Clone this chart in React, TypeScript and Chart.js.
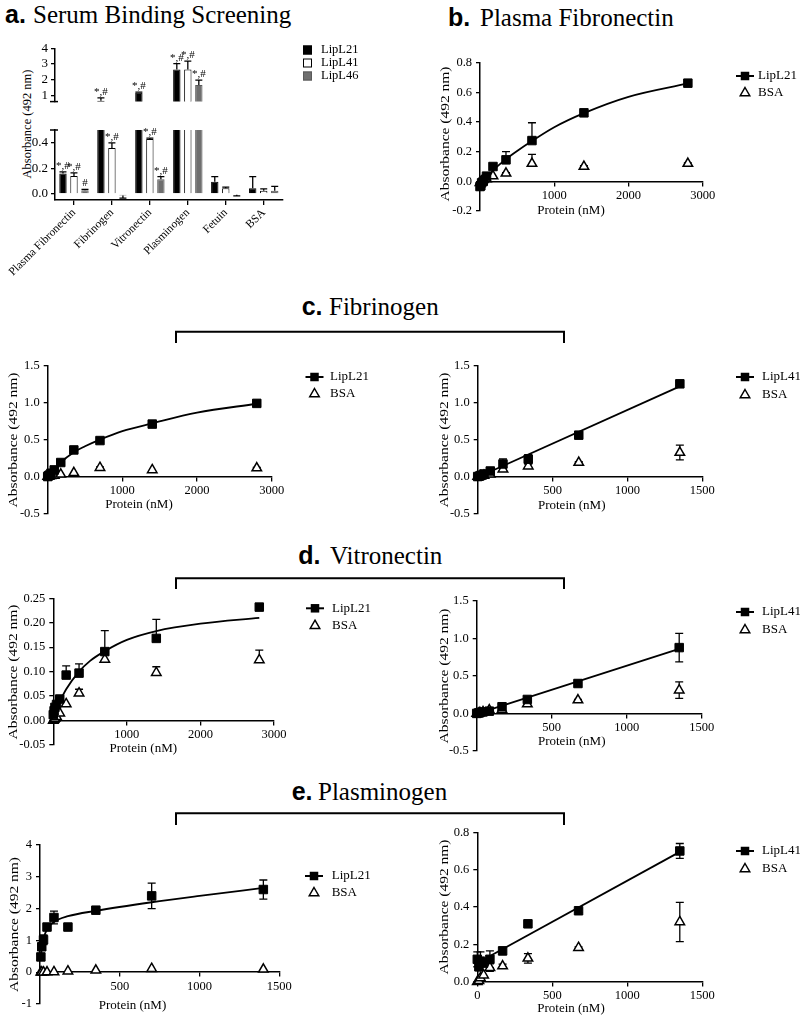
import React, { useEffect, useRef } from 'react';
import { Chart, registerables } from 'chart.js';

Chart.register(...registerables);

const SERIF = '"Liberation Serif", "Times New Roman", Times, serif';
const SANS = '"Liberation Sans", Arial, Helvetica, sans-serif';

// ---------------- Text ----------------
const xAxisTitle = 'Protein (nM)';
const yAxisTitle = 'Absorbance (492 nm)';

// ---------------- Panel a: Serum Binding Screening ----------------
const aCategories = ['Plasma Fibronectin', 'Fibrinogen', 'Vitronectin', 'Plasminogen', 'Fetuin', 'BSA'];
const aSeriesNames = ['LipL21', 'LipL41', 'LipL46'];
const aLipL21 = [0.16, 0.66, 1.17, 2.66, 0.095, 0.045];
const aLipL21Err = [0.012, 0.19, 0.05, 0.37, 0.04, 0.09];
const aLipL21Marks = ['*,#', '*,#', '*,#', '*,#', '', ''];
const aLipL41 = [0.14, 0.36, 0.43, 2.66, 0.045, 0.025];
const aLipL41Err = [0.025, 0.04, 0.006, 0.53, 0.008, 0.015];
const aLipL41Marks = ['*,#', '*,#', '*,#', '*,#', '', ''];
const aLipL46 = [0.03, -0.012, 0.115, 1.66, -0.006, 0.025];
const aLipL46Err = [0.006, 0.02, 0.02, 0.32, 0.008, 0.035];
const aLipL46Marks = ['#', '', '*,#', '*,#', '', ''];
const aUpperTicks = [1, 2, 3, 4];
const aLowerTicks = [0, 0.2, 0.4];

// ---------------- Panel b: Plasma Fibronectin ----------------
const bConc = [0, 11, 22, 44, 87.5, 175, 350, 700, 1400, 2800];
const bLipL21 = [-0.035, -0.03, -0.01, 0.0, 0.035, 0.1, 0.145, 0.275, 0.462, 0.662];
const bLipL21Err = [0, 0, 0, 0, 0, 0, 0.055, 0.12, 0, 0];
const bBSA = [-0.01, -0.005, 0.0, 0.01, 0.015, 0.036, 0.054, 0.12, 0.1, 0.12];
const bBSAErr = [0, 0, 0, 0, 0, 0, 0.005, 0.062, 0.005, 0.005];
const bFitX = [0, 100, 200, 350, 500, 700, 1000, 1400, 2000, 2800];
const bFitY = [-0.03, 0.03, 0.085, 0.15, 0.205, 0.272, 0.365, 0.46, 0.57, 0.66];
const bXTicks = [1000, 2000, 3000];
const bYTicks = [-0.2, 0, 0.2, 0.4, 0.6, 0.8];

// ---------------- Panel c: Fibrinogen ----------------
const cLConc = [0, 11, 22, 44, 87.5, 175, 350, 700, 1400, 2800];
const cLLipL21 = [0.0, 0.01, 0.02, 0.045, 0.09, 0.19, 0.36, 0.487, 0.71, 0.99];
const cLLipL21Err = [0, 0, 0, 0, 0.01, 0.02, 0.02, 0.02, 0.02, 0.04];
const cLBSA = [0, 0, 0.005, 0.01, 0.015, 0.03, 0.05, 0.12, 0.09, 0.115];
const cLBSAErr = [0, 0, 0, 0, 0, 0, 0, 0.01, 0, 0.01];
const cLFitX = [0, 100, 175, 350, 500, 700, 1000, 1400, 2000, 2800];
const cLFitY = [0, 0.1, 0.19, 0.33, 0.41, 0.5, 0.615, 0.72, 0.865, 0.985];
const cLXTicks = [1000, 2000, 3000];
const cYTicks = [-0.5, 0, 0.5, 1, 1.5];

const cRConc = [0, 10.5, 21, 42, 84, 168.75, 337.5, 675, 1350];
const cRLipL41 = [0, 0.005, 0.015, 0.035, 0.075, 0.17, 0.235, 0.56, 1.255];
const cRLipL41Err = [0, 0, 0, 0, 0.01, 0.07, 0.06, 0.03, 0.02];
const cRBSA = [0, 0, 0.005, 0.015, 0.03, 0.1, 0.14, 0.19, 0.325];
const cRBSAErr = [0, 0, 0, 0, 0, 0.02, 0.03, 0.01, 0.1];
const cRFitX = [0, 1350];
const cRFitY = [-0.01, 1.22];
const cRXTicks = [500, 1000, 1500];

// ---------------- Panel d: Vitronectin ----------------
const dLConc = [0, 11, 22, 44, 87.5, 175, 350, 700, 1400, 2800];
const dLLipL21 = [0.012, 0.02, 0.027, 0.033, 0.044, 0.093, 0.097, 0.141, 0.168, 0.232];
const dLLipL21Err = [0, 0, 0, 0, 0, 0.019, 0.019, 0.043, 0.039, 0];
const dLBSA = [0, 0.002, 0.004, 0.008, 0.015, 0.034, 0.056, 0.125, 0.098, 0.124];
const dLBSAErr = [0, 0, 0, 0, 0, 0, 0.008, 0.01, 0.012, 0.02];
const dLFitX = [0, 44, 87.5, 175, 350, 500, 700, 1000, 1400, 2000, 2800];
const dLFitY = [0, 0.022, 0.038, 0.064, 0.1, 0.122, 0.142, 0.165, 0.183, 0.198, 0.21];
const dLXTicks = [1000, 2000, 3000];
const dLYTicks = [-0.05, 0, 0.05, 0.1, 0.15, 0.2, 0.25];

const dRConc = [0, 10.5, 21, 42, 84, 168.75, 337.5, 675, 1350];
const dRLipL41 = [0, 0.005, 0.01, 0.02, 0.03, 0.089, 0.186, 0.398, 0.876];
const dRLipL41Err = [0, 0, 0, 0, 0.01, 0.02, 0.02, 0.04, 0.19];
const dRBSA = [0, 0, 0.01, 0.02, 0.045, 0.05, 0.124, 0.177, 0.31];
const dRBSAErr = [0, 0, 0, 0, 0.01, 0, 0.03, 0.01, 0.11];
const dRFitX = [0, 1350];
const dRFitY = [-0.005, 0.86];
const dRXTicks = [500, 1000, 1500];
const dRYTicks = [-0.5, 0, 0.5, 1, 1.5];

// ---------------- Panel e: Plasminogen ----------------
const eLConc = [5.5, 11, 22, 44, 87.5, 175, 350, 700, 1400];
const eLLipL21 = [0.48, 0.8, 1.02, 1.42, 1.72, 1.42, 1.95, 2.4, 2.6];
const eLLipL21Err = [0.08, 0.1, 0.15, 0.05, 0.2, 0.08, 0.08, 0.4, 0.3];
const eLBSA = [0, 0, 0, 0.005, 0.01, 0.03, 0.06, 0.11, 0.09];
const eLBSAErr = [0, 0, 0, 0, 0, 0, 0, 0, 0];
const eLFitX = [5.5, 11, 22, 44, 87.5, 175, 350, 700, 1000, 1400];
const eLFitY = [0.45, 0.75, 1.05, 1.35, 1.58, 1.76, 1.93, 2.2, 2.4, 2.65];
const eLXTicks = [500, 1000, 1500];
const eLYTicks = [-1, 0, 1, 2, 3, 4];

const eRConc = [0, 10.5, 21, 42, 84, 168.75, 337.5, 675, 1350];
const eRLipL41 = [0.12, 0.08, 0.11, 0.1, 0.12, 0.165, 0.31, 0.38, 0.7];
const eRLipL41Err = [0.04, 0.02, 0.05, 0.02, 0.045, 0.02, 0.01, 0.01, 0.04];
const eRBSA = [0, 0.005, 0.02, 0.035, 0.075, 0.084, 0.125, 0.182, 0.32];
const eRBSAErr = [0, 0, 0, 0, 0.02, 0.01, 0.025, 0.005, 0.105];
const eRFitX = [0, 1350];
const eRFitY = [0.1, 0.695];
const eRXTicks = [0, 500, 1000, 1500];
const eRYTicks = [0, 0.2, 0.4, 0.6, 0.8];

// ---------------- helpers ----------------
function drawErrorBars(chart: any) {
  const ctx = chart.ctx;
  const area = chart.chartArea;
  chart.data.datasets.forEach((ds: any, i: number) => {
    const errs = ds.errors;
    if (!errs) return;
    const meta = chart.getDatasetMeta(i);
    const yScale = chart.scales[meta.yAxisID];
    const mode = ds.errorMode || 'both';
    const cap = ds.capHalf || 4;
    ctx.save();
    ctx.beginPath();
    ctx.rect(area.left - 12, area.top, area.right - area.left + 24, area.bottom - area.top);
    ctx.clip();
    ctx.strokeStyle = '#000';
    ctx.lineWidth = 1.3;
    meta.data.forEach((el: any, j: number) => {
      const e = errs[j];
      if (!e) return;
      const raw = ds.data[j];
      const v = typeof raw === 'number' ? raw : raw.y;
      const ends: number[] = [];
      if (mode === 'both') ends.push(v + e, v - e);
      else ends.push(v >= 0 ? v + e : v - e);
      const p0 = yScale.getPixelForValue(v);
      ends.forEach((t) => {
        const py = yScale.getPixelForValue(t);
        ctx.beginPath();
        ctx.moveTo(el.x, p0);
        ctx.lineTo(el.x, py);
        ctx.moveTo(el.x - cap, py);
        ctx.lineTo(el.x + cap, py);
        ctx.stroke();
      });
    });
    ctx.restore();
  });
}

type Box = { x: number; y: number; w: number; h: number };
type XYPanel = {
  key: string;
  box: Box;
  axisX: number;
  xRight: number;
  yTop: number;
  yBottom: number;
  xMax: number;
  xTicks: number[];
  yMin: number;
  yMax: number;
  yTicks: number[];
  yDec: number;
  conc: number[];
  lip: number[];
  lipErr: number[];
  bsa: number[];
  bsaErr: number[];
  fitX: number[];
  fitY: number[];
  lipName: string;
  errMode: string;
  legend: { sx: number; tx: number; y1: number; y2: number };
  xTitle: { x: number; y: number };
  yTitle: { x: number; y: number };
};

const xyPanels: XYPanel[] = [
  {
    key: 'b', box: { x: 400, y: 50, w: 400, h: 175 }, axisX: 480, xRight: 702.7, yTop: 62.7, yBottom: 211,
    xMax: 3000, xTicks: bXTicks, yMin: -0.2, yMax: 0.8, yTicks: bYTicks, yDec: 1,
    conc: bConc, lip: bLipL21, lipErr: bLipL21Err, bsa: bBSA, bsaErr: bBSAErr, fitX: bFitX, fitY: bFitY,
    lipName: 'LipL21', errMode: 'up', legend: { sx: 745, tx: 758, y1: 76, y2: 93 },
    xTitle: { x: 571, y: 211 }, yTitle: { x: 445.7, y: 134 },
  },
  {
    key: 'cL', box: { x: 0, y: 350, w: 390, h: 175 }, axisX: 47.7, xRight: 271.7, yTop: 365.7, yBottom: 514.7,
    xMax: 3000, xTicks: cLXTicks, yMin: -0.5, yMax: 1.5, yTicks: cYTicks, yDec: 1,
    conc: cLConc, lip: cLLipL21, lipErr: cLLipL21Err, bsa: cLBSA, bsaErr: cLBSAErr, fitX: cLFitX, fitY: cLFitY,
    lipName: 'LipL21', errMode: 'up', legend: { sx: 314.5, tx: 330, y1: 377, y2: 394 },
    xTitle: { x: 139, y: 505 }, yTitle: { x: 14, y: 440 },
  },
  {
    key: 'cR', box: { x: 400, y: 350, w: 400, h: 175 }, axisX: 477.7, xRight: 702.3, yTop: 365.7, yBottom: 515,
    xMax: 1500, xTicks: cRXTicks, yMin: -0.5, yMax: 1.5, yTicks: cYTicks, yDec: 1,
    conc: cRConc, lip: cRLipL41, lipErr: cRLipL41Err, bsa: cRBSA, bsaErr: cRBSAErr, fitX: cRFitX, fitY: cRFitY,
    lipName: 'LipL41', errMode: 'both', legend: { sx: 745, tx: 762, y1: 377, y2: 395 },
    xTitle: { x: 571.7, y: 505.5 }, yTitle: { x: 444.3, y: 440 },
  },
  {
    key: 'dL', box: { x: 0, y: 585, w: 390, h: 175 }, axisX: 53.3, xRight: 274, yTop: 598.3, yBottom: 745,
    xMax: 3000, xTicks: dLXTicks, yMin: -0.05, yMax: 0.25, yTicks: dLYTicks, yDec: 2,
    conc: dLConc, lip: dLLipL21, lipErr: dLLipL21Err, bsa: dLBSA, bsaErr: dLBSAErr, fitX: dLFitX, fitY: dLFitY,
    lipName: 'LipL21', errMode: 'up', legend: { sx: 315, tx: 332, y1: 608.3, y2: 625.7 },
    xTitle: { x: 143.3, y: 748.3 }, yTitle: { x: 14, y: 672 },
  },
  {
    key: 'dR', box: { x: 400, y: 588, w: 400, h: 175 }, axisX: 476.7, xRight: 701.7, yTop: 600.7, yBottom: 751,
    xMax: 1500, xTicks: dRXTicks, yMin: -0.5, yMax: 1.5, yTicks: dRYTicks, yDec: 1,
    conc: dRConc, lip: dRLipL41, lipErr: dRLipL41Err, bsa: dRBSA, bsaErr: dRBSAErr, fitX: dRFitX, fitY: dRFitY,
    lipName: 'LipL41', errMode: 'both', legend: { sx: 745, tx: 762, y1: 612, y2: 630 },
    xTitle: { x: 571.7, y: 741.7 }, yTitle: { x: 444.3, y: 676 },
  },
  {
    key: 'eL', box: { x: 0, y: 830, w: 390, h: 190 }, axisX: 40, xRight: 279.3, yTop: 845, yBottom: 1004,
    xMax: 1500, xTicks: eLXTicks, yMin: -1, yMax: 4, yTicks: eLYTicks, yDec: 0,
    conc: eLConc, lip: eLLipL21, lipErr: eLLipL21Err, bsa: eLBSA, bsaErr: eLBSAErr, fitX: eLFitX, fitY: eLFitY,
    lipName: 'LipL21', errMode: 'both', legend: { sx: 314, tx: 331.7, y1: 876, y2: 893 },
    xTitle: { x: 132.5, y: 1006 }, yTitle: { x: 15, y: 924.5 },
  },
  {
    key: 'eR', box: { x: 400, y: 818, w: 400, h: 202 }, axisX: 477.3, xRight: 702.3, yTop: 832.3, yBottom: 981.7,
    xMax: 1500, xTicks: eRXTicks, yMin: 0, yMax: 0.8, yTicks: eRYTicks, yDec: 1,
    conc: eRConc, lip: eRLipL41, lipErr: eRLipL41Err, bsa: eRBSA, bsaErr: eRBSAErr, fitX: eRFitX, fitY: eRFitY,
    lipName: 'LipL41', errMode: 'both', legend: { sx: 745, tx: 762, y1: 851, y2: 869 },
    xTitle: { x: 571, y: 1009 }, yTitle: { x: 444.3, y: 907 },
  },
];

function makeXYConfig(p: XYPanel): any {
  const bx = p.box.x;
  const by = p.box.y;
  const yAxisW = p.axisX - bx;
  const tickFont = { family: SERIF, size: 12.5 };
  const overlay = {
    id: 'xyOverlay',
    beforeDatasetsDraw(chart: any) {
      drawErrorBars(chart);
    },
    afterDraw(chart: any) {
      const ctx = chart.ctx;
      ctx.save();
      ctx.fillStyle = '#000';
      ctx.strokeStyle = '#000';
      ctx.font = `13px ${SERIF}`;
      ctx.textAlign = 'center';
      ctx.textBaseline = 'middle';
      ctx.fillText(xAxisTitle, p.xTitle.x - bx, p.xTitle.y - by);
      ctx.save();
      ctx.translate(p.yTitle.x - bx, p.yTitle.y - by);
      ctx.rotate(-Math.PI / 2);
      ctx.scale(1.19, 1);
      ctx.fillText(yAxisTitle, 0, 0);
      ctx.restore();
      // legend
      const lx = p.legend.sx - bx;
      const ly1 = p.legend.y1 - by;
      const ly2 = p.legend.y2 - by;
      ctx.lineWidth = 2;
      ctx.beginPath();
      ctx.moveTo(lx - 9, ly1);
      ctx.lineTo(lx + 9, ly1);
      ctx.stroke();
      ctx.fillRect(lx - 4.25, ly1 - 4.25, 8.5, 8.5);
      const r = 5.5;
      ctx.lineWidth = 1.5;
      ctx.beginPath();
      ctx.moveTo(lx, ly2 - r);
      ctx.lineTo(lx + r * 0.866, ly2 + r * 0.5);
      ctx.lineTo(lx - r * 0.866, ly2 + r * 0.5);
      ctx.closePath();
      ctx.fillStyle = '#fff';
      ctx.fill();
      ctx.stroke();
      ctx.fillStyle = '#000';
      ctx.textAlign = 'left';
      ctx.fillText(p.lipName, p.legend.tx - bx, ly1);
      ctx.fillText('BSA', p.legend.tx - bx, ly2);
      ctx.restore();
    },
  };
  return {
    type: 'scatter',
    data: {
      datasets: [
        {
          label: p.lipName,
          data: p.conc.map((x, i) => ({ x, y: p.lip[i] })),
          errors: p.lipErr,
          errorMode: p.errMode,
          capHalf: 4,
          pointStyle: 'rect',
          pointRadius: 6,
          backgroundColor: '#000',
          borderColor: '#000',
          borderWidth: 1,
          clip: false,
        },
        {
          label: 'BSA',
          data: p.conc.map((x, i) => ({ x, y: p.bsa[i] })),
          errors: p.bsaErr,
          errorMode: p.errMode,
          capHalf: 4,
          pointStyle: 'triangle',
          pointRadius: 5.5,
          backgroundColor: '#fff',
          borderColor: '#000',
          borderWidth: 1.5,
          clip: false,
        },
        {
          label: 'fit',
          data: p.fitX.map((x, i) => ({ x, y: p.fitY[i] })),
          showLine: true,
          pointRadius: 0,
          borderColor: '#000',
          borderWidth: 1.8,
          cubicInterpolationMode: 'monotone',
          fill: false,
          clip: false,
        },
      ],
    },
    options: {
      responsive: false,
      maintainAspectRatio: false,
      animation: false,
      events: [],
      layout: {
        padding: {
          left: 0,
          top: p.yTop - by,
          right: bx + p.box.w - p.xRight,
          bottom: by + p.box.h - p.yBottom,
        },
      },
      plugins: { legend: { display: false }, tooltip: { enabled: false } },
      scales: {
        x: {
          type: 'linear',
          position: { y: 0 },
          min: 0,
          max: p.xMax,
          afterBuildTicks: (s: any) => {
            s.ticks = p.xTicks.map((v) => ({ value: v }));
          },
          grid: { drawOnChartArea: false, drawTicks: true, tickLength: 4, color: '#000', lineWidth: 1.3 },
          border: { display: true, color: '#000', width: 1.5 },
          ticks: { color: '#000', font: tickFont, padding: 3, maxRotation: 0, autoSkip: false, callback: (v: any) => String(v) },
        },
        y: {
          type: 'linear',
          position: 'left',
          min: p.yMin,
          max: p.yMax,
          afterBuildTicks: (s: any) => {
            s.ticks = p.yTicks.map((v) => ({ value: v }));
          },
          afterFit: (s: any) => {
            s.width = yAxisW;
          },
          grid: { drawOnChartArea: false, drawTicks: true, tickLength: 4, color: '#000', lineWidth: 1.3 },
          border: { display: true, color: '#000', width: 1.5 },
          ticks: { color: '#000', font: tickFont, padding: 4, autoSkip: false, callback: (v: any) => Number(v).toFixed(p.yDec) },
        },
      },
    },
    plugins: [overlay],
  };
}

// ---------------- Panel a (broken axis: two stacked charts) ----------------
const aPlot = { left: 55, right: 282.7, upperTop: 48.3, upperBottom: 118.3, lowerTop: 130, lowerBottom: 200 };
const aUpperBox: Box = { x: 0, y: 35, w: 380, h: 100 };
const aLowerBox: Box = { x: 0, y: 118, w: 300, h: 170 };
const aColors = ['#000000', '#ffffff', '#6f6f6f'];
const aBorders = ['#000000', '#000000', '#5a5a5a'];
const aLegend = { sx: 303, tx: 321, rows: [50, 63, 76] };

function makeBarConfig(part: string): any {
  const upper = part === 'upper';
  const box = upper ? aUpperBox : aLowerBox;
  const top = upper ? aPlot.upperTop : aPlot.lowerTop;
  const bottom = upper ? aPlot.upperBottom : aPlot.lowerBottom;
  const yMin = upper ? 0.613 : -0.047;
  const yMax = upper ? 4 : 0.5;
  const ticks = upper ? aUpperTicks : aLowerTicks;
  const values = [aLipL21, aLipL41, aLipL46];
  const errs = [aLipL21Err, aLipL41Err, aLipL46Err];
  const marks = [aLipL21Marks, aLipL41Marks, aLipL46Marks];
  const overlay = {
    id: 'barOverlay',
    afterDatasetsDraw(chart: any) {
      drawErrorBars(chart);
      const ctx = chart.ctx;
      const ys = chart.scales.y;
      ctx.save();
      ctx.fillStyle = '#000';
      ctx.font = `11px ${SERIF}`;
      ctx.textAlign = 'center';
      ctx.textBaseline = 'alphabetic';
      chart.data.datasets.forEach((ds: any, i: number) => {
        const meta = chart.getDatasetMeta(i);
        meta.data.forEach((el: any, j: number) => {
          const m = ds.marks[j];
          if (!m) return;
          const t = ds.data[j] + ds.errors[j];
          if (t < yMin || t > yMax) return;
          ctx.fillText(m, el.x, ys.getPixelForValue(t) - 3);
        });
      });
      // axis break mark
      const area = chart.chartArea;
      const by = upper ? area.bottom : area.top;
      ctx.strokeStyle = '#000';
      ctx.lineWidth = 1.5;
      ctx.beginPath();
      ctx.moveTo(area.left - 5, by);
      ctx.lineTo(area.left + 3, by);
      ctx.stroke();
      if (upper) {
        ctx.font = `12.5px ${SERIF}`;
        ctx.textAlign = 'left';
        ctx.textBaseline = 'middle';
        aSeriesNames.forEach((name, k) => {
          const ry = aLegend.rows[k] - box.y;
          const sx = aLegend.sx - box.x;
          ctx.fillStyle = aColors[k];
          ctx.fillRect(sx, ry - 4.5, 9, 9);
          ctx.strokeStyle = aBorders[k];
          ctx.lineWidth = 1;
          ctx.strokeRect(sx + 0.5, ry - 4, 8, 8);
          ctx.fillStyle = '#000';
          ctx.fillText(name, aLegend.tx - box.x, ry);
        });
      }
      ctx.restore();
    },
  };
  return {
    type: 'bar',
    data: {
      labels: aCategories,
      datasets: aSeriesNames.map((name, k) => ({
        label: name,
        data: values[k],
        errors: errs[k],
        marks: marks[k],
        errorMode: 'up',
        capHalf: 3.5,
        backgroundColor: aColors[k],
        borderColor: aBorders[k],
        borderWidth: 1,
        categoryPercentage: 0.87,
        barPercentage: 0.67,
        clip: 0,
      })),
    },
    options: {
      responsive: false,
      maintainAspectRatio: false,
      animation: false,
      events: [],
      layout: {
        padding: {
          left: 0,
          top: top - box.y,
          right: box.x + box.w - aPlot.right,
          bottom: upper ? box.y + box.h - bottom : 0,
        },
      },
      plugins: { legend: { display: false }, tooltip: { enabled: false } },
      scales: {
        x: {
          display: !upper,
          grid: { offset: false, drawOnChartArea: false, drawTicks: true, tickLength: 5, color: '#000', lineWidth: 1.3 },
          border: { display: true, color: '#000', width: 1.5 },
          afterFit: (s: any) => {
            s.height = box.y + box.h - bottom;
          },
          ticks: { color: '#000', font: { family: SERIF, size: 11.5 }, minRotation: 45, maxRotation: 45, padding: 1, autoSkip: false },
        },
        y: {
          min: yMin,
          max: yMax,
          afterBuildTicks: (s: any) => {
            s.ticks = ticks.map((v) => ({ value: v }));
          },
          afterFit: (s: any) => {
            s.width = aPlot.left - box.x;
          },
          grid: { drawOnChartArea: false, drawTicks: true, tickLength: 4, color: '#000', lineWidth: 1.3 },
          border: { display: true, color: '#000', width: 1.5 },
          ticks: { color: '#000', font: { family: SERIF, size: 13 }, padding: 3, autoSkip: false, callback: (v: any) => (upper ? String(v) : Number(v).toFixed(1)) },
        },
      },
    },
    plugins: [overlay],
  };
}

function ChartCanvas({ box, make }: { box: Box; make: () => any }) {
  const ref = useRef<HTMLCanvasElement | null>(null);
  useEffect(() => {
    const chart = new Chart(ref.current as HTMLCanvasElement, make());
    return () => chart.destroy();
  }, []);
  return (
    <canvas
      ref={ref}
      width={box.w}
      height={box.h}
      style={{ position: 'absolute', left: box.x, top: box.y, width: box.w, height: box.h }}
    />
  );
}

const panelTitles = [
  { tag: 'a.', text: 'Serum Binding Screening', tx: 5, x: 33, y: 22.7 },
  { tag: 'b.', text: 'Plasma Fibronectin', tx: 448, x: 480, y: 26 },
  { tag: 'c.', text: 'Fibrinogen', tx: 301.7, x: 329, y: 315 },
  { tag: 'd.', text: 'Vitronectin', tx: 298.3, x: 330, y: 564.3 },
  { tag: 'e.', text: 'Plasminogen', tx: 291.7, x: 318, y: 800 },
];
const brackets = [
  { y: 331.7, drop: 343 },
  { y: 578.3, drop: 589 },
  { y: 813.3, drop: 825 },
];
const bracketX = [176, 564];

export default function App() {
  return (
    <div style={{ position: 'absolute', left: 0, top: 0, width: 800, height: 1020, background: '#fff', overflow: 'hidden' }}>
      <svg width={800} height={1020} style={{ position: 'absolute', left: 0, top: 0 }}>
        {panelTitles.map((t) => (
          <g key={t.tag}>
            <text x={t.tx} y={t.y} fontFamily={SANS} fontWeight="bold" fontSize={25} fill="#000">
              {t.tag}
            </text>
            <text x={t.x} y={t.y} fontFamily={SERIF} fontSize={25} fill="#000">
              {t.text}
            </text>
          </g>
        ))}
        {brackets.map((b, i) => (
          <polyline
            key={i}
            points={`${bracketX[0]},${b.drop} ${bracketX[0]},${b.y} ${bracketX[1]},${b.y} ${bracketX[1]},${b.drop}`}
            fill="none"
            stroke="#000"
            strokeWidth={2}
          />
        ))}
        <text
          transform="translate(27,124) rotate(-90)"
          textAnchor="middle"
          dominantBaseline="central"
          fontFamily={SERIF}
          fontSize={12.5}
          fill="#000"
        >
          {yAxisTitle}
        </text>
      </svg>
      <ChartCanvas box={aLowerBox} make={() => makeBarConfig('lower')} />
      <ChartCanvas box={aUpperBox} make={() => makeBarConfig('upper')} />
      {xyPanels.map((p) => (
        <ChartCanvas key={p.key} box={p.box} make={() => makeXYConfig(p)} />
      ))}
    </div>
  );
}
